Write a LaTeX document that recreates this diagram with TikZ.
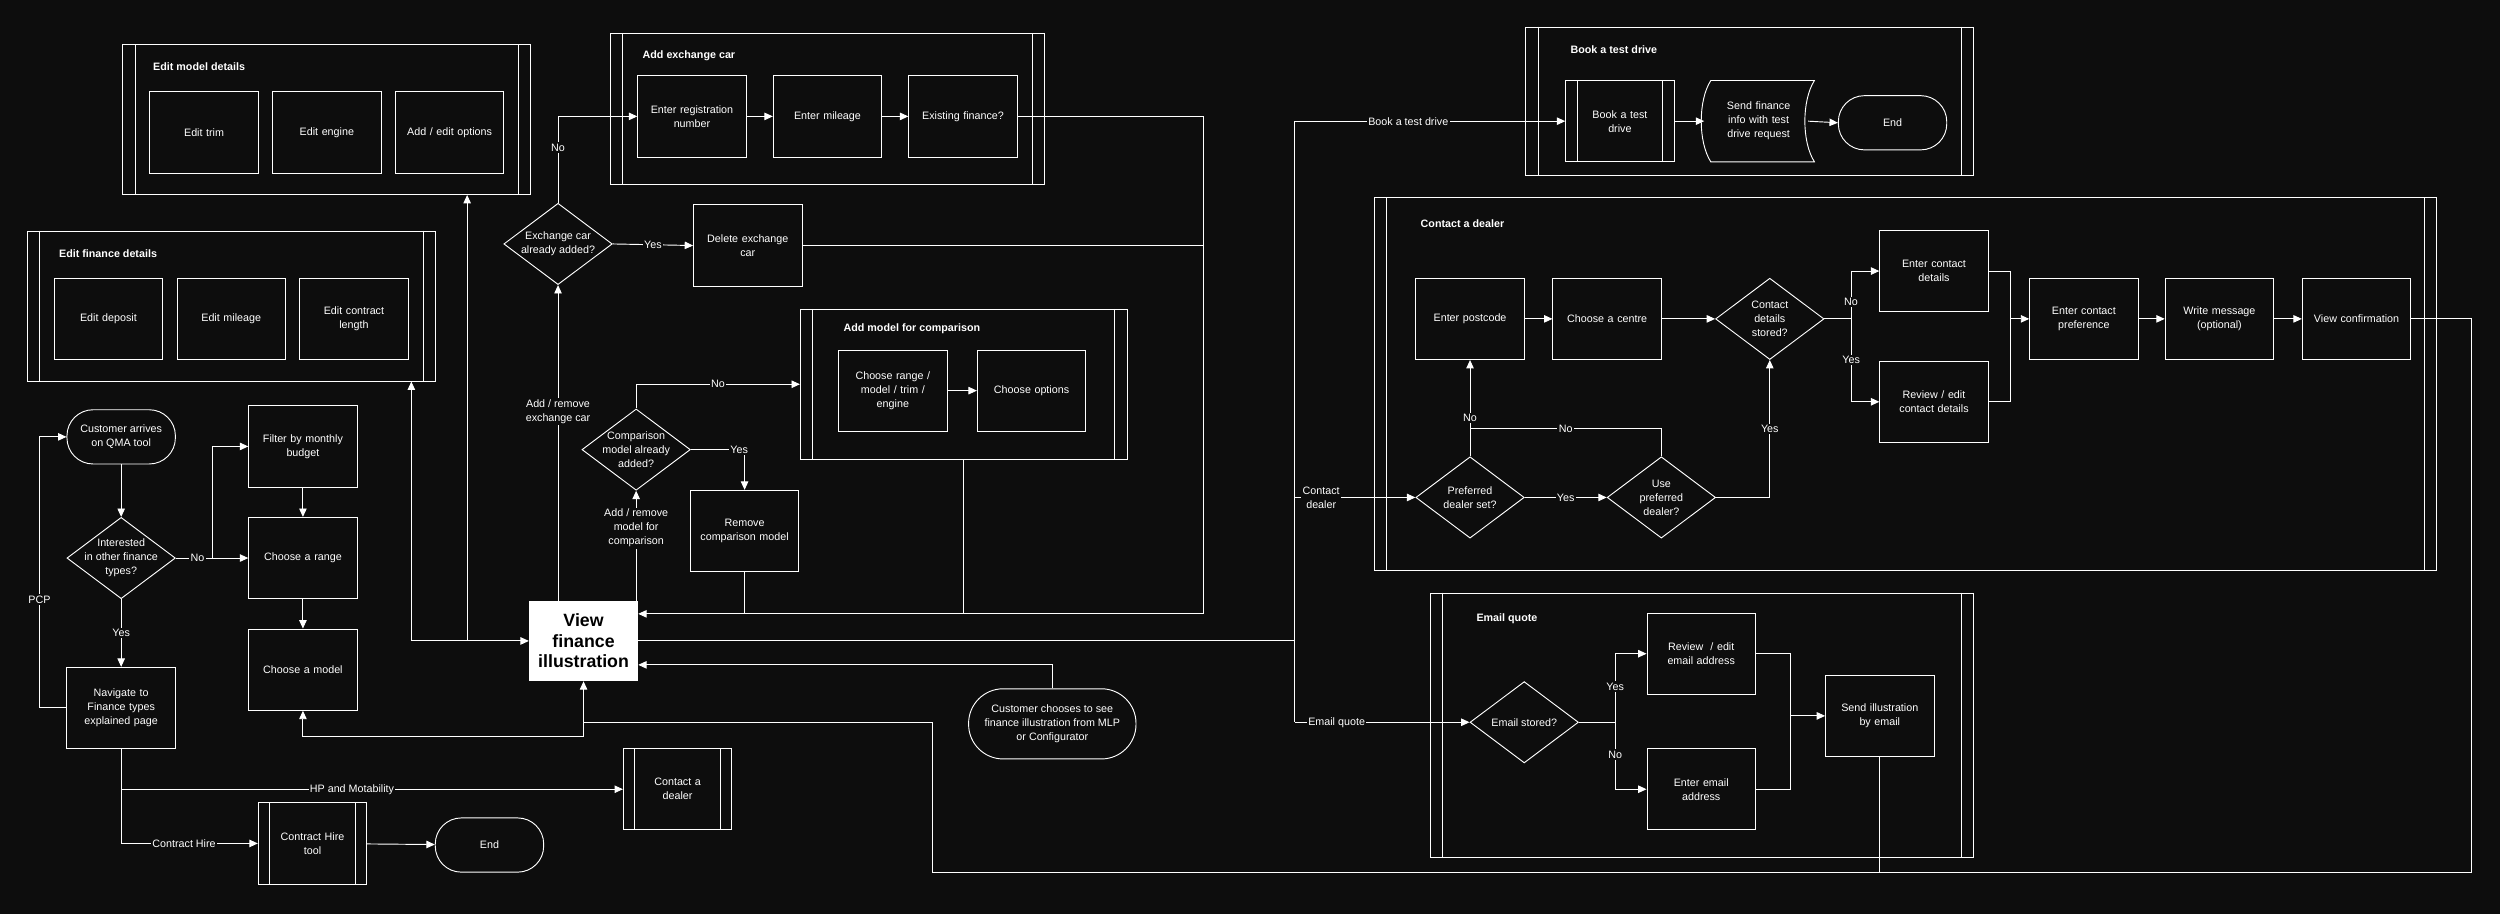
\documentclass[tikz,border=0pt]{standalone}
\usepackage{fontspec}
\setmainfont{Liberation Sans}
\usetikzlibrary{arrows.meta,shapes.geometric,calc}
\definecolor{bg}{HTML}{0D0D0D}
\begin{document}
\begin{tikzpicture}[x=0.06cm,y=-0.06cm,
  every node/.style={text=white,font=\fontsize{11.5}{15}\selectfont},
  line/.style={draw=white,line width=1pt},
  arr/.style={line,-{Triangle[length=9pt,width=8pt]}},
  proc/.style={line,rectangle,minimum width=4.08cm,minimum height=3.06cm,inner sep=2pt,align=center,text width=3.8cm},
  term/.style={line,rectangle,rounded corners=0.98cm,minimum width=4.08cm,minimum height=2.04cm,align=center},
  dia/.style={line,diamond,inner sep=0pt,minimum width=4.08cm,minimum height=3.06cm},
  dtxt/.style={align=center,inner sep=0pt},
  cont/.style={line,rectangle,inner sep=0pt},
  ttl/.style={font=\fontsize{11.5}{15}\selectfont\bfseries,anchor=west},
  lbl/.style={fill=bg,inner sep=1.5pt,align=center},
]
\fill[bg] (0,0) rectangle (1568,573);
\useasboundingbox (0,0) rectangle (1568,573);
% containers
\node[cont,minimum width=15.36cm,minimum height=5.64cm] (emod) at (205,75) {};
\node[cont,minimum width=15.36cm,minimum height=5.64cm] (efin) at (145,192) {};
\node[cont,minimum width=16.32cm,minimum height=5.7cm] (addx) at (519,68.5) {};
\node[cont,minimum width=12.3cm,minimum height=5.64cm] (addm) at (604.5,241) {};
\node[cont,minimum width=16.86cm,minimum height=5.58cm] (book) at (1097.5,63.5) {};
\node[cont,minimum width=39.96cm,minimum height=14.04cm] (cdl) at (1195,241) {};
\node[cont,minimum width=20.46cm,minimum height=9.96cm] (emq) at (1067.5,455) {};
\foreach \c in {emod,efin,addx,addm,book,cdl,emq}{
  \draw[line] ([xshift=0.48cm]\c.north west) -- ([xshift=0.48cm]\c.south west);
  \draw[line] ([xshift=-0.48cm]\c.north east) -- ([xshift=-0.48cm]\c.south east);}
\node[ttl] at (94,42) {Edit model details};
\node[ttl] at (35,159) {Edit finance details};
\node[ttl] at (401,35) {Add exchange car};
\node[ttl] at (527,206) {Add model for comparison};
\node[ttl] at (983,31) {Book a test drive};
\node[ttl] at (889,140) {Contact a dealer};
\node[ttl] at (924,388) {Email quote};
% process boxes
\node[proc] (etrim) at (128,83) {Edit trim};
\node[proc] (eeng) at (205,83) {Edit engine};
\node[proc] (eopt) at (282,83) {Add / edit options};
\node[proc] (edep) at (68,200) {Edit deposit};
\node[proc] (emil) at (145,200) {Edit mileage};
\node[proc] (ecl) at (222,200) {Edit contract\\length};
\node[proc] (reg) at (434,73) {Enter registration\\number};
\node[proc] (mil) at (519,73) {Enter mileage};
\node[proc] (exfin) at (604,73) {Existing finance?};
\node[proc] (delx) at (469,154) {Delete exchange\\car};
\node[proc] (cr) at (560,245) {Choose range /\\model / trim /\\engine};
\node[proc] (co) at (647,245) {Choose options};
\node[proc] (remc) at (467,333) {Remove\\comparison model};
\node[proc] (filter) at (190,280) {Filter by monthly\\budget};
\node[proc] (range) at (190,350) {Choose a range};
\node[proc] (cmodel) at (190,420) {Choose a model};
\node[proc] (nav) at (76,444) {Navigate to\\Finance types\\explained page};
\node[proc] (dealer) at (425,495) {Contact a\\dealer};
\node[proc] (chire) at (196,529) {Contract Hire\\tool};
\node[proc] (btd) at (1016,76) {Book a test\\drive};
\node[text width=3.4cm,align=center,minimum width=4.08cm,minimum height=3.06cm] (sendf) at (1103,76) {Send finance\\info with test\\drive request};
\draw[line] (1073,50.5) -- (1138,50.5) .. controls (1130,63) and (1130,89) .. (1138,101.5) -- (1073,101.5) .. controls (1065,89) and (1065,63) .. cycle;
\node[term] (end2) at (1187,77) {End};
\foreach \c in {dealer,chire,btd}{
  \draw[line] ([xshift=0.45cm]\c.north west) -- ([xshift=0.45cm]\c.south west);
  \draw[line] ([xshift=-0.45cm]\c.north east) -- ([xshift=-0.45cm]\c.south east);}
\node[proc] (postc) at (922,200) {Enter postcode};
\node[proc] (centre) at (1008,200) {Choose a centre};
\node[proc] (ecd) at (1213,170) {Enter contact\\details};
\node[proc] (recd) at (1213,252) {Review / edit\\contact details};
\node[proc] (ecp) at (1307,200) {Enter contact\\preference};
\node[proc] (wm) at (1392,200) {Write message\\(optional)};
\node[proc] (vconf) at (1478,200) {View confirmation};
\node[proc] (rev) at (1067,410) {Review~ / edit\\email address};
\node[proc] (ent) at (1067,495) {Enter email\\address};
\node[proc] (sendil) at (1179,449) {Send illustration\\by email};
\node[line,fill=white,text=black,minimum width=4.08cm,minimum height=3.0cm,align=center,inner sep=0pt,font=\fontsize{19}{22}\selectfont\bfseries] (vf) at (366,402) {View\\finance\\illustration};
\node[term] (cust) at (76,274) {Customer arrives\\on QMA tool};
\node[term] (end1) at (307,530) {End};
\node[term,minimum width=6.3cm,minimum height=2.64cm,rounded corners=1.3cm] (mlp) at (660,454) {Customer chooses to see\\finance illustration from MLP\\or Configurator};
% diamonds
\node[dia] (exd) at (350,153) {};
\node[dtxt] at (exd) {Exchange car\\already added?};
\node[dia] (cmpd) at (399,282) {};
\node[dtxt] at (cmpd) {Comparison\\model already\\added?};
\node[dia] (intd) at (76,350) {};
\node[dtxt] at (intd) {Interested\\in other finance\\types?};
\node[dia] (prefd) at (922,312) {};
\node[dtxt] at (prefd) {Preferred\\dealer set?};
\node[dia] (usepd) at (1042,312) {};
\node[dtxt] at (usepd) {Use\\preferred\\dealer?};
\node[dia] (cds) at (1110,200) {};
\node[dtxt] at (cds) {Contact\\details\\stored?};
\node[dia] (emd) at (956,453) {};
\node[dtxt] at (emd) {Email stored?};
% coordinates
\coordinate (j1) at (133,350);
\coordinate (r1) at (755,385);
\coordinate (l1) at (258,402);
\coordinate (l2) at (293,402);
\coordinate (b1) at (366,462);
\coordinate (b2) at (366,453);
\coordinate (b3) at (1179,547);
\coordinate (t0) at (812,402);
\coordinate (t1) at (812,76);
\coordinate (t2) at (812,453);
\coordinate (t3) at (812,312);
\coordinate (c1) at (922,269);
\coordinate (c2) at (1161,200);
\coordinate (c3) at (1261,200);
\coordinate (e1) at (1013,453);
\coordinate (e2) at (1123,449);
% left connectors
\draw[arr] (cust) -- (intd);
\draw[arr] (intd.east) -- node[lbl,pos=0.3]{No} (range.west);
\draw[arr] (j1) |- (filter.west);
\draw[arr] (filter) -- (range);
\draw[arr] (range) -- (cmodel);
\draw[arr] (intd.south) -- node[lbl]{Yes} (nav.north);
\draw[arr] (nav.west) -- ++(-17,0) |- node[lbl,pos=0.2]{PCP} (cust.west);
\draw[arr] (nav.south) |- node[lbl,pos=0.73]{Contract Hire} (chire.west);
\draw[arr] (nav.south |- dealer.west) -- node[lbl,pos=0.46]{HP and Motability} (dealer.west);
\draw[arr] (chire) -- (end1);
% view finance
\draw[arr] (vf.north -| exd) -- node[lbl,pos=0.6]{Add / remove\\exchange car} (exd.south);
\draw[arr] (vf.north -| cmpd) -- node[lbl,pos=0.66]{Add / remove\\model for\\comparison} (cmpd.south);
\draw[arr] (exd.north) |- node[lbl,pos=0.32]{No} (reg.west);
\draw[arr] (exd.east) -- node[lbl]{Yes} (delx.west);
\draw[arr] (reg) -- (mil);
\draw[arr] (mil) -- (exfin);
\draw[arr] (exfin.east) -| (r1) -- (vf.east |- r1);
\draw[line] (delx.east) -- (delx.east -| r1);
\draw[line] (addm.south) -- (addm.south |- r1);
\draw[line] (remc.south) -- (remc.south |- r1);
\draw[arr] (cmpd.north) |- node[lbl,pos=0.75]{No} (addm.west);
\draw[arr] (cmpd.east) -| node[lbl,pos=0.45]{Yes} (remc.north);
\draw[arr] (cr) -- (co);
\draw[arr] (mlp.north) |- ($(vf.east)+(0,15)$);
\draw[arr] (l1) -- (vf.west);
\draw[arr] (l1) -- (efin.south -| l1);
\draw[arr] (l2) -- (emod.south -| l2);
\draw[arr] (b1) -- (vf.south);
\draw[arr] (b1) -| (cmodel.south);
\draw[line] (b2) -- (585,453) -- (585,547) -- (b3) -- (1550,547) -- (1550,200) -- (vconf.east);
\draw[line] (sendil.south) -- (b3);
% trunk
\draw[line] (vf.east) -- (t0);
\draw[line] (t1) -- (t2);
\draw[arr] (t1) -- node[lbl,pos=0.42]{Book a test drive} (btd.west);
\draw[arr] (t3) -- node[lbl,pos=0.22]{Contact\\dealer} (prefd.west);
\draw[arr] (t2) -- node[lbl,pos=0.24]{Email quote} (emd.west);
% book
\draw[arr] (btd) -- (sendf);
\draw[arr] (1134,76) -- (end2.west);
% contact
\draw[arr] (prefd.east) -- node[lbl]{Yes} (usepd.west);
\draw[arr] (prefd.north) -- node[lbl,pos=0.4]{No} (postc.south);
\draw[line] (usepd.north) |- node[lbl,pos=0.75]{No} (c1);
\draw[arr] (usepd.east) -| node[lbl,pos=0.75]{Yes} (cds.south);
\draw[arr] (postc) -- (centre);
\draw[arr] (centre) -- (cds);
\draw[line] (cds.east) -- (c2);
\draw[arr] (c2) |- node[lbl,pos=0.18]{No} (ecd.west);
\draw[arr] (c2) |- node[lbl,pos=0.25]{Yes} (recd.west);
\draw[line] (ecd.east) -| (c3);
\draw[line] (recd.east) -| (c3);
\draw[arr] (c3) -- (ecp.west);
\draw[arr] (ecp) -- (wm);
\draw[arr] (wm) -- (vconf);
% email
\draw[line] (emd.east) -- (e1);
\draw[arr] (e1) |- node[lbl,pos=0.26]{Yes} (rev.west);
\draw[arr] (e1) |- node[lbl,pos=0.24]{No} (ent.west);
\draw[line] (rev.east) -| (e2);
\draw[line] (ent.east) -| (e2);
\draw[arr] (e2) -- (sendil.west);
\end{tikzpicture}
\end{document}
